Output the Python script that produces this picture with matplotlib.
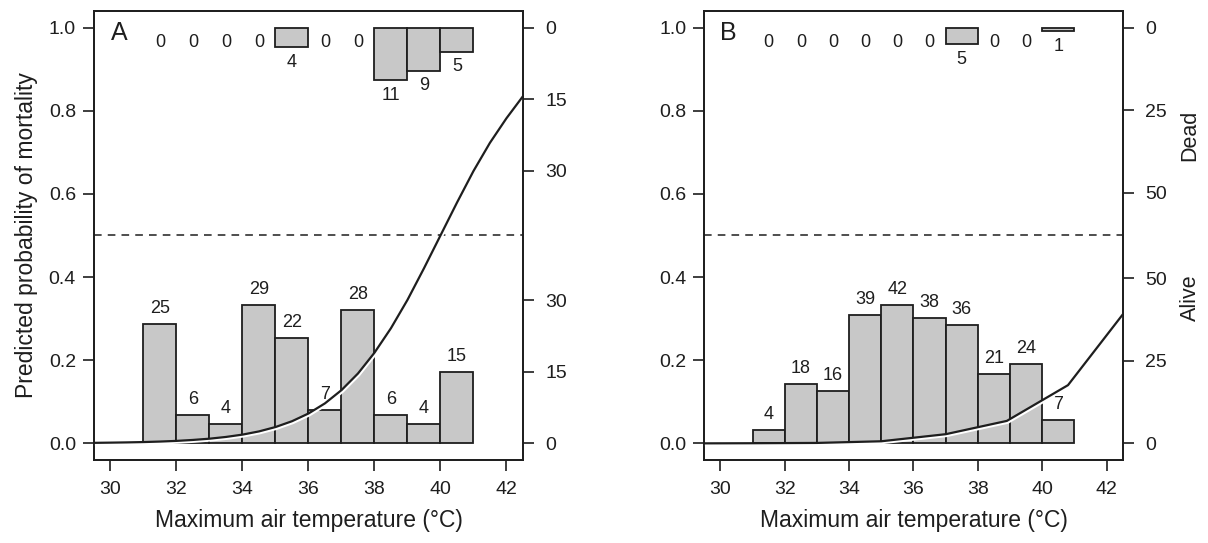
import matplotlib
matplotlib.use('Agg')
import matplotlib.pyplot as plt
import matplotlib.patheffects as pe
import matplotlib.transforms as mtransforms
import numpy as np

plt.rcParams['font.family'] = ['Liberation Sans', 'DejaVu Sans']

# temperature bins (1 degree wide)
bin_edges = [31, 32, 33, 34, 35, 36, 37, 38, 39, 40, 41]

# panel A counts
alive_a = [25, 6, 4, 29, 22, 7, 28, 6, 4, 15]
dead_a = [0, 0, 0, 0, 4, 0, 0, 11, 9, 5]
# panel B counts
alive_b = [4, 18, 16, 39, 42, 38, 36, 21, 24, 7]
dead_b = [0, 0, 0, 0, 0, 0, 5, 0, 0, 1]

# fitted curves
curve_x_a = [29.5, 30, 30.5, 31, 31.5, 32, 32.5, 33, 33.5, 34, 34.5, 35, 35.5,
             36, 36.5, 37, 37.5, 38, 38.5, 39, 39.5, 40, 40.5, 41, 41.5, 42, 42.5]
curve_p_a = [0.0012, 0.0017, 0.0023, 0.0031, 0.0043, 0.0059, 0.0082, 0.0112,
             0.0154, 0.021, 0.0287, 0.0392, 0.0532, 0.0718, 0.0962, 0.128,
             0.168, 0.218, 0.277, 0.345, 0.421, 0.5, 0.579, 0.655, 0.723,
             0.782, 0.835]
curve_x_b = [29.5, 31, 33, 35, 37, 38.9, 40.8, 42.5]
curve_p_b = [0.0, 0.0003, 0.001, 0.005, 0.022, 0.054, 0.14, 0.31]

count_ticks_a = [0, 15, 30]
count_ticks_b = [0, 25, 50]

GRAY = '#c8c8c8'
INK = '#1e1e1e'
TICK_FS = 14
LABEL_FS = 16.5


def draw_panel(ax, letter, alive, dead, cx, cp, count_ticks):
    alive = np.array(alive, dtype=float)
    dead = np.array(dead, dtype=float)
    edges = np.array(bin_edges, dtype=float)
    centers = (edges[:-1] + edges[1:]) / 2
    width = edges[1] - edges[0]
    scale = 3 * max(alive.max(), dead.max())

    # alive histogram from the bottom
    ax.bar(centers, alive / scale, width=width, color=GRAY,
           edgecolor=INK, linewidth=1.3, zorder=2)
    for c, n in zip(centers, alive):
        ax.annotate(f'{int(n)}', (c, n / scale), xytext=(0, 11),
                    textcoords='offset points', ha='center', va='center',
                    fontsize=TICK_FS - 1, color=INK)

    # dead histogram hanging from the top
    for c, n in zip(centers, dead):
        h = n / scale
        if n > 0:
            ax.bar(c, h, bottom=1 - h, width=width, color=GRAY,
                   edgecolor=INK, linewidth=1.3, zorder=2)
        ax.annotate(f'{int(n)}', (c, 1 - h), xytext=(0, -11),
                    textcoords='offset points', ha='center', va='center',
                    fontsize=TICK_FS - 1, color=INK)

    ax.axhline(0.5, color=INK, linewidth=1.1, linestyle=(0, (5, 4)), zorder=1)

    ax.plot(cx, cp, color=INK, linewidth=1.6, zorder=3,
            path_effects=[pe.Stroke(offset=(0.7, -1.1), linewidth=2.0,
                                    foreground='white'),
                          pe.Normal()])

    ax.set_xlim(29.5, 42.5)
    ax.set_ylim(-0.04, 1.04)
    ax.set_xticks([30, 32, 34, 36, 38, 40, 42])
    ax.set_yticks([0, 0.2, 0.4, 0.6, 0.8, 1.0])
    ax.set_yticklabels(['0.0', '0.2', '0.4', '0.6', '0.8', '1.0'])
    ax.tick_params(axis='both', direction='out', length=8, width=1.2,
                   labelsize=TICK_FS, colors=INK, pad=5)
    ax.tick_params(axis='x', pad=7)
    for s in ax.spines.values():
        s.set_linewidth(1.3)
        s.set_color(INK)
    ax.set_xlabel('Maximum air temperature (°C)', fontsize=LABEL_FS,
                  color=INK, labelpad=8)
    ax.text(0.058, 0.951, letter, transform=ax.transAxes, ha='center',
            va='center', fontsize=LABEL_FS + 1.5, color=INK)

    ax2 = ax.twinx()
    ax2.set_ylim(ax.get_ylim())
    pos = [t / scale for t in count_ticks] + [1 - t / scale for t in count_ticks]
    labs = [str(t) for t in count_ticks] * 2
    ax2.set_yticks(pos)
    ax2.set_yticklabels(labs)
    ax2.tick_params(axis='y', direction='out', length=8, width=1.2,
                    labelsize=TICK_FS, colors=INK, pad=8)
    for s in ax2.spines.values():
        s.set_linewidth(1.3)
        s.set_color(INK)
    return ax2


fig = plt.figure(figsize=(12.08, 5.43), dpi=100)
ax_a = fig.add_axes([0.0778, 0.1529, 0.3551, 0.8268])
ax_b = fig.add_axes([0.5830, 0.1529, 0.3464, 0.8268])

draw_panel(ax_a, 'A', alive_a, dead_a, curve_x_a, curve_p_a, count_ticks_a)
draw_panel(ax_b, 'B', alive_b, dead_b, curve_x_b, curve_p_b, count_ticks_b)

ax_a.set_ylabel('Predicted probability of mortality', fontsize=LABEL_FS,
                color=INK, labelpad=8)

trans = mtransforms.blended_transform_factory(ax_b.transAxes, ax_b.transData)
ax_b.text(1.161, 0.74, 'Dead', transform=trans, rotation=90, ha='center',
          va='center', fontsize=TICK_FS + 1.5, color=INK)
ax_b.text(1.161, 0.35, 'Alive', transform=trans, rotation=90, ha='center',
          va='center', fontsize=TICK_FS + 1.5, color=INK)

fig.savefig('out.png', dpi=100)
